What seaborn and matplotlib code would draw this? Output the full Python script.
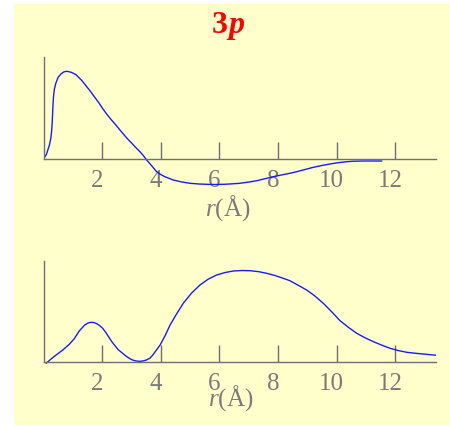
import matplotlib
matplotlib.use("Agg")
import matplotlib.pyplot as plt
import matplotlib.transforms as mtransforms
from matplotlib.patches import Rectangle
import seaborn as sns
import pandas as pd

# Radial wavefunction R(r) for the 3p orbital (arbitrary units)
r_wave = [0.0, 0.1, 0.2, 0.25, 0.28, 0.3, 0.32, 0.34, 0.37, 0.42, 0.5, 0.6,
          0.7, 0.8, 0.95, 1.11, 1.3, 1.45, 1.6, 1.75, 1.9, 2.03, 2.15, 2.3,
          2.45, 2.58, 2.72, 2.85, 3.0, 3.14, 3.29, 3.4, 3.52, 3.65, 3.75,
          3.86, 4.0, 4.15, 4.3, 4.43, 4.7, 5.0, 5.3, 5.57, 5.85, 6.14, 6.4,
          6.7, 7.0, 7.28, 7.55, 7.84, 8.1, 8.41, 8.64, 8.9, 9.21, 9.5, 9.78,
          10.05, 10.35, 10.6, 10.9, 11.2, 11.55]
R_wave = [0, 5, 14, 21, 29, 38, 52, 62, 70, 76, 82, 85.5,
          87.5, 88, 87, 84.6, 79, 73.6, 68, 62, 56, 50.3, 45.5, 40,
          35, 30.3, 25.5, 21, 16.5, 12, 7.6, 4, -0.7, -5, -8.5,
          -12.4, -15.2, -17.5, -19.2, -20.7, -22.6, -24, -24.7, -25, -25.2, -25, -24.6,
          -24, -22.8, -21.4, -19.5, -17.4, -15.8, -14, -12.4, -10.4, -8, -6.2, -4.7,
          -3.4, -2.4, -1.9, -1.7, -1.7, -1.7]

# Radial probability density r^2 R^2 (arbitrary units)
r_prob = [0.09, 0.25, 0.43, 0.65, 0.88, 1.05, 1.22, 1.4, 1.52, 1.62, 1.72,
          1.82, 1.92, 2.02, 2.12, 2.22, 2.32, 2.42, 2.55, 2.7, 2.82, 2.95,
          3.05, 3.16, 3.28, 3.39, 3.5, 3.63, 3.73, 3.85, 3.98, 4.15, 4.32,
          4.52, 4.77, 5.05, 5.34, 5.62, 5.91, 6.2, 6.48, 6.77, 7.05, 7.35,
          7.62, 7.9, 8.18, 8.41, 8.75, 8.98, 9.25, 9.55, 9.85, 10.12, 10.4,
          10.69, 10.98, 11.26, 11.55, 11.83, 12.1, 12.4, 12.7, 12.96, 13.2,
          13.42]
P_prob = [-1.6, 2.5, 6.7, 11.5, 17.4, 23, 30.7, 36.5, 38.7, 39.4, 39.2,
          38, 36, 33.4, 29.5, 25, 20.5, 16.7, 12, 8.4, 5.5, 3,
          1.6, 0.7, 0.4, 0.7, 1.6, 3.4, 6.7, 11.5, 16.7, 26, 36.7,
          46.7, 58.4, 68.5, 76.7, 82.5, 86.7, 89.2, 90.7, 91.2, 91, 90,
          88.4, 86.2, 83.4, 81, 75.5, 71.7, 66, 58.4, 49.5, 41, 34.5,
          28.4, 23.8, 20, 16.5, 13.4, 11.2, 9.4, 8.4, 7.7, 7,
          6.4]

x_ticks = [2, 4, 6, 8, 10, 12]
x_max = 13.4

sns.set_theme(style="white")
plt.rcParams["font.family"] = ["Liberation Serif", "DejaVu Serif"]
plt.rcParams["mathtext.fontset"] = "custom"
plt.rcParams["mathtext.rm"] = "Liberation Serif"
plt.rcParams["mathtext.it"] = "Liberation Serif:italic"

W, H = 450, 426
fig = plt.figure(figsize=(W / 100, H / 100), dpi=100)
fig.patch.set_facecolor("white")
panel = Rectangle((14 / W, 1 - 425 / H), (W - 14) / W, (425 - 4) / H,
                  transform=fig.transFigure, facecolor="#FFFFCC",
                  edgecolor="none", zorder=-10)
fig.patches.append(panel)

axis_col = "#707070"
label_col = "#7a7a7a"
x0_px, unit_px = 43.5, 29.3
ax_w = x_max * unit_px

def make_axes(y_axis_px, ylo, yhi):
    top_px = y_axis_px - yhi
    bot_px = y_axis_px - ylo
    ax = fig.add_axes([x0_px / W, 1 - bot_px / H, ax_w / W, (bot_px - top_px) / H])
    ax.set_zorder(1)
    return ax

ax1 = make_axes(159.3, -30, 102)
ax2 = make_axes(361.7, -5, 101)

df1 = pd.DataFrame({"r": r_wave, "R": R_wave})
df2 = pd.DataFrame({"r": r_prob, "P": P_prob})
sns.lineplot(data=df1, x="r", y="R", ax=ax1, color="#1a1aff", lw=1.0,
             estimator=None, sort=False)
sns.lineplot(data=df2, x="r", y="P", ax=ax2, color="#1a1aff", lw=1.0,
             estimator=None, sort=False)

offset = mtransforms.ScaledTranslation(-0.05, 0, fig.dpi_scale_trans)
for ax, (ylo, yhi), lab_xy in [(ax1, (-30, 102), (0.47, -0.141)),
                                (ax2, (-5, 101), (0.477, -0.295))]:
    ax.patch.set_visible(False)
    ax.set_xlim(0, x_max)
    ax.set_ylim(ylo, yhi)
    for s in ["top", "right"]:
        ax.spines[s].set_visible(False)
    ax.spines["bottom"].set_position(("data", 0))
    ax.spines["bottom"].set_bounds(0, x_max)
    ax.spines["left"].set_bounds(0, yhi)
    for s in ["bottom", "left"]:
        ax.spines[s].set_color(axis_col)
        ax.spines[s].set_linewidth(1.0)
    ax.set_yticks([])
    ax.set_xticks(x_ticks)
    ax.set_xticklabels([str(t) for t in x_ticks])
    ax.tick_params(axis="x", direction="in", length=12, width=1.0,
                   color=axis_col, labelcolor=label_col, labelsize=18, pad=8.0,
                   bottom=True)
    for lbl in ax.get_xticklabels():
        lbl.set_transform(lbl.get_transform() + offset)
    ax.set_ylabel("")
    ax.set_xlabel("$r$(Å)", fontsize=18, color=label_col, va="center")
    ax.xaxis.set_label_coords(*lab_xy)

fig.text(228 / W, 1 - 33.3 / H, "3", color="#ff0000", fontsize=23,
         fontweight="bold", ha="right", va="baseline")
fig.text(228 / W, 1 - 33.3 / H, "p", color="#ff0000", fontsize=23,
         fontweight="bold", fontstyle="italic", ha="left", va="baseline")

fig.savefig("out.png", dpi=100, facecolor=fig.get_facecolor())
